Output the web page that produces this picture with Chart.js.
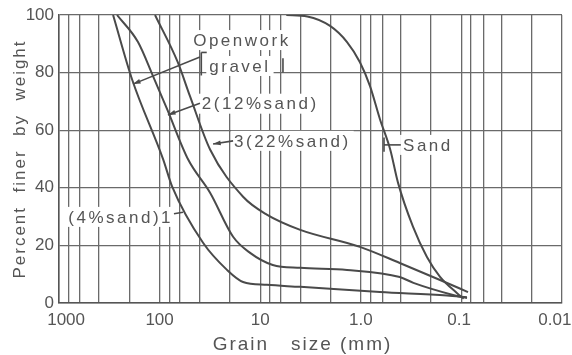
<!DOCTYPE html>
<html>
<head>
<meta charset="utf-8">
<script src="https://cdn.jsdelivr.net/npm/chart.js@4.4.1/dist/chart.umd.min.js"></script>
<style>
  html, body { margin: 0; padding: 0; background: #fff; }
</style>
</head>
<body>
<canvas id="chart" width="572" height="355"></canvas>
<script>
// grain size (mm) vs percent finer
const curve1Size = [290, 188, 92, 75, 37, 21.4, 14.8, 8.6, 4.0, 0.645, 0.139, 0.088];
const curve1Pct  = [100, 77.7, 49.8, 40.4, 20.9, 11.5, 7.3, 6.3, 5.6, 3.8, 2.6, 2.0];

const curve2Size = [265, 164, 116, 84, 52, 31.5, 18.6, 12.6, 7.5, 4.0, 1.37, 0.41, 0.30, 0.121, 0.088];
const curve2Pct  = [100, 90.6, 78.7, 67.2, 49.8, 38.3, 23, 17.4, 13.2, 12.2, 11.5, 9.0, 7.0, 2.8, 1.7];

const curve3Size = [111, 66, 49.9, 31.5, 14.8, 8.6, 4.0, 1.02, 0.41, 0.163, 0.086];
const curve3Pct  = [100, 83.6, 71.8, 53.3, 36.9, 30.7, 25.4, 19.5, 13.9, 8.0, 3.8];

const sandSize = [5.5, 3.4, 2.02, 1.37, 1.02, 0.81, 0.645, 0.51, 0.427, 0.303, 0.22, 0.163, 0.111, 0.095];
const sandPct  = [100, 99.5, 96.2, 90.6, 83.6, 75.3, 63.8, 53.3, 41.8, 26.5, 16.0, 9.1, 3.5, 1.5];

// vertical grid lines of the sieve chart, and the labelled ones
const xGridSizes = [1000, 800, 630, 400, 200, 100, 80, 63, 40, 20, 10, 8, 6.3, 4, 2,
                    1, 0.8, 0.6, 0.4, 0.2, 0.1, 0.08, 0.06, 0.04, 0.02, 0.01];
const xTickValues = [1000, 100, 10, 1, 0.1, 0.01];
const xTickText = ['   1000', '100', '10', '1.0', '0.1 ', '0.01   '];
const yTickValues = [0, 20, 40, 60, 80, 100];

const INK = '#555';
const FAMILY = '"Liberation Sans", Arial, sans-serif';

function pts(sizes, pcts) {
  return sizes.map((s, i) => ({ x: s, y: pcts[i] }));
}

function curve(sizes, pcts) {
  return {
    data: pts(sizes, pcts),
    borderColor: '#4a4a4a',
    borderWidth: 2,
    pointRadius: 0,
    cubicInterpolationMode: 'monotone',
    fill: false
  };
}

// labels on the plot, placed in data coordinates
function noteList(chart) {
  const x = chart.scales.x, y = chart.scales.y;
  const at = (s, p) => [x.getPixelForValue(s), y.getPixelForValue(p)];
  return [
    { text: 'Openwork', pos: at(15.2, 91.3), align: 'center' },
    { text: 'gravel', pos: at(15.9, 82.3), align: 'center' },
    { text: '2(12%sand)', pos: at(38, 69.2), align: 'left' },
    { text: '3(22%sand)', pos: at(18.2, 56.3), align: 'left' },
    { text: '(4%sand)1', pos: at(73.6, 29.9), align: 'right' },
    { text: 'Sand', pos: at(0.38, 54.9), align: 'left' }
  ];
}

function leaderList(chart) {
  const x = chart.scales.x, y = chart.scales.y;
  const at = (s, p) => [x.getPixelForValue(s), y.getPixelForValue(p)];
  return [
    { from: at(39.7, 85.4), to: at(184, 76), arrow: true },
    { from: at(39.7, 69.4), to: at(82.6, 65.3), arrow: true },
    { from: at(18.6, 56.3), to: at(29.4, 55.2), arrow: true },
    { from: at(72, 31), to: at(58.5, 31.5), arrow: false },
    { from: at(0.4, 54.9), to: at(0.588, 54.9), arrow: false },
    // bracket marks round "gravel"
    { from: at(38.5, 87), to: at(38.5, 79), arrow: false },
    { from: at(38.5, 87), to: at(34, 87), arrow: false },
    { from: at(5.94, 85), to: at(5.94, 80), arrow: false },
    { from: at(0.588, 57.5), to: at(0.588, 52.5), arrow: false }
  ];
}

function boxOf(ctx, n) {
  const w = ctx.measureText(n.text).width;
  const [px, py] = n.pos;
  const left = n.align === 'left' ? px : n.align === 'right' ? px - w : px - w / 2;
  return { left, top: py - 9, w, h: 18 };
}

const annotate = {
  id: 'annotate',
  beforeDatasetsDraw(chart) {
    const ctx = chart.ctx;
    ctx.save();
    ctx.font = '17px ' + FAMILY;
    ctx.letterSpacing = '2.5px';
    ctx.fillStyle = '#fff';
    noteList(chart).forEach(n => {
      const b = boxOf(ctx, n);
      ctx.fillRect(b.left - 3, b.top - 1, b.w + 6, b.h + 2);
    });
    ctx.restore();
  },
  afterDatasetsDraw(chart) {
    const ctx = chart.ctx;
    ctx.save();
    ctx.font = '17px ' + FAMILY;
    ctx.letterSpacing = '2.5px';
    ctx.fillStyle = INK;
    ctx.textBaseline = 'middle';
    noteList(chart).forEach(n => {
      ctx.textAlign = n.align;
      ctx.fillText(n.text, n.pos[0], n.pos[1] + 1);
    });
    ctx.strokeStyle = '#4a4a4a';
    ctx.lineWidth = 1.6;
    leaderList(chart).forEach(l => {
      ctx.beginPath();
      ctx.moveTo(l.from[0], l.from[1]);
      ctx.lineTo(l.to[0], l.to[1]);
      ctx.stroke();
      if (l.arrow) {
        const a = Math.atan2(l.to[1] - l.from[1], l.to[0] - l.from[0]);
        ctx.beginPath();
        ctx.moveTo(l.to[0], l.to[1]);
        ctx.lineTo(l.to[0] - 8 * Math.cos(a - 0.3), l.to[1] - 8 * Math.sin(a - 0.3));
        ctx.lineTo(l.to[0] - 8 * Math.cos(a + 0.3), l.to[1] - 8 * Math.sin(a + 0.3));
        ctx.closePath();
        ctx.fillStyle = '#4a4a4a';
        ctx.fill();
      }
    });
    ctx.restore();
  },
  afterDraw(chart) {
    const ctx = chart.ctx;
    const area = chart.chartArea;
    ctx.save();
    ctx.fillStyle = INK;
    ctx.textAlign = 'center';
    ctx.textBaseline = 'middle';
    ctx.font = '19px ' + FAMILY;
    ctx.letterSpacing = '2px';
    ctx.fillText('Grain   size (mm)', (area.left + area.right) / 2 - 8, 345);
    ctx.font = '17px ' + FAMILY;
    ctx.letterSpacing = '2px';
    ctx.translate(20, (area.top + area.bottom) / 2);
    ctx.rotate(-Math.PI / 2);
    ctx.fillText('Percent  finer  by  weight', 0, 0);
    ctx.restore();
  }
};

new Chart(document.getElementById('chart'), {
  type: 'line',
  data: {
    datasets: [
      curve(curve1Size, curve1Pct),
      curve(curve2Size, curve2Pct),
      curve(curve3Size, curve3Pct),
      curve(sandSize, sandPct)
    ]
  },
  options: {
    responsive: false,
    animation: false,
    devicePixelRatio: 1,
    layout: { padding: { top: 15, right: 10, left: 0, bottom: 0 } },
    plugins: { legend: { display: false }, tooltip: { enabled: false } },
    scales: {
      x: {
        type: 'logarithmic',
        reverse: true,
        min: 0.01,
        max: 1000,
        afterBuildTicks: s => { s.ticks = xGridSizes.map(v => ({ value: v })); },
        afterFit: s => { s.height = 52; s.paddingLeft = 0; s.paddingRight = 0; },
        grid: { color: '#6a6a6a', lineWidth: 1.3, drawTicks: false },
        border: { color: '#555', width: 1.5 },
        ticks: {
          autoSkip: false,
          maxRotation: 0,
          padding: 7,
          color: INK,
          font: { family: FAMILY, size: 17 },
          callback: v => {
            const i = xTickValues.indexOf(v);
            return i >= 0 ? xTickText[i] : '';
          }
        }
      },
      y: {
        min: 0,
        max: 100,
        afterBuildTicks: s => { s.ticks = yTickValues.map(v => ({ value: v })); },
        afterFit: s => { s.width = 59; s.paddingTop = 0; s.paddingBottom = 0; },
        grid: { color: '#6a6a6a', lineWidth: 1.3, drawTicks: false },
        border: { color: '#555', width: 1.5 },
        ticks: {
          padding: 5,
          color: INK,
          font: { family: FAMILY, size: 17 }
        }
      }
    }
  },
  plugins: [annotate]
});
</script>
</body>
</html>
